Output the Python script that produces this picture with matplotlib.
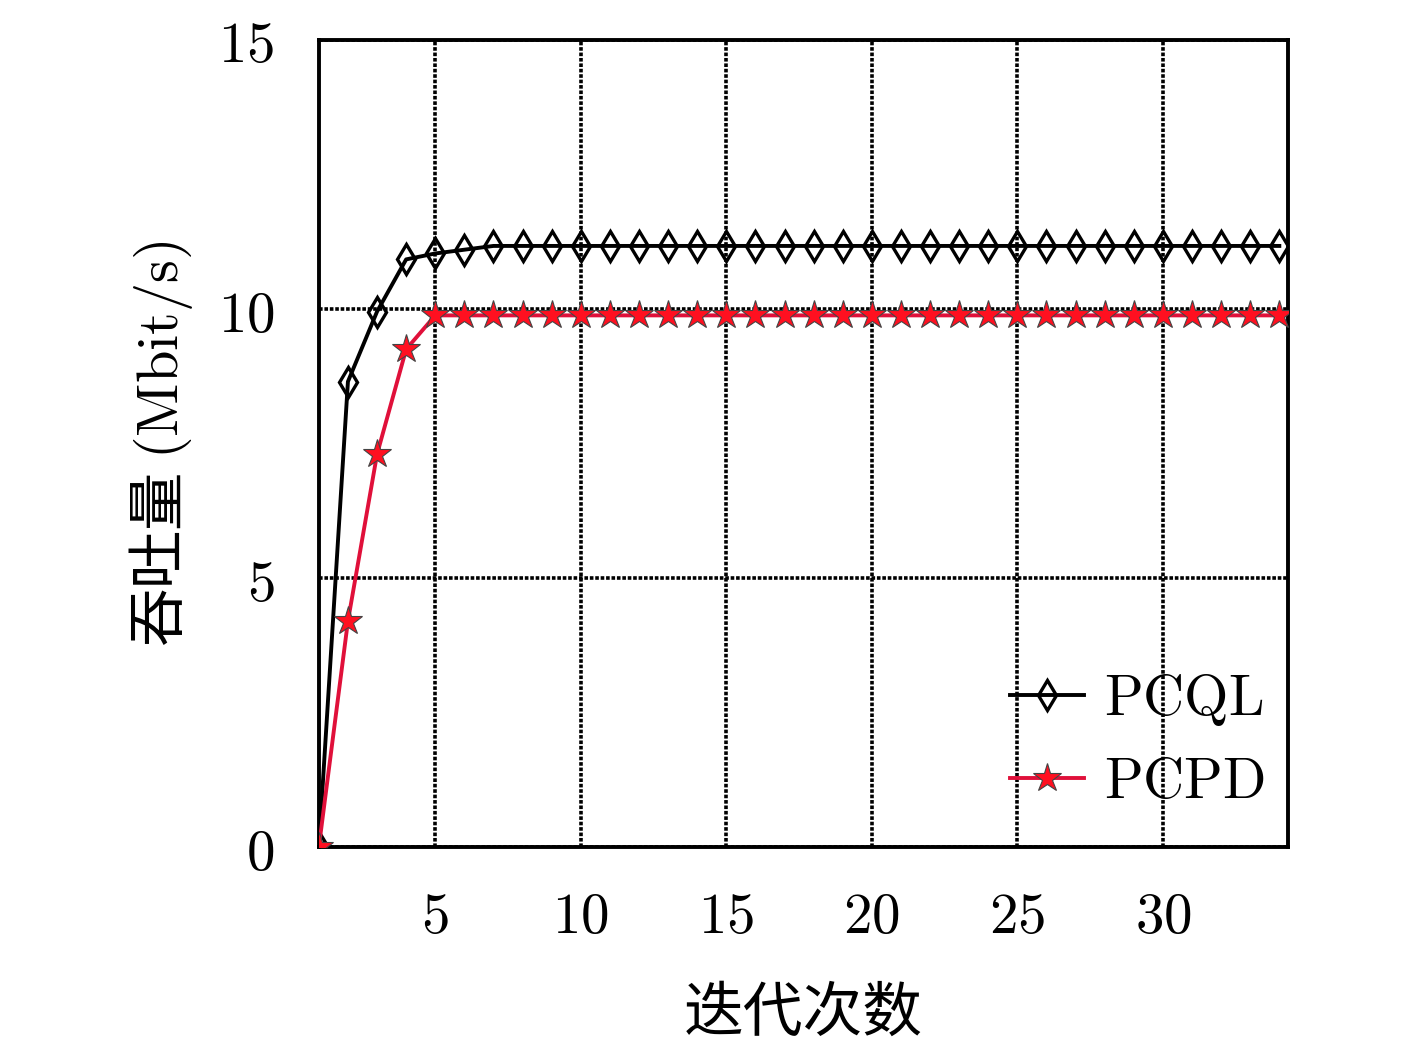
import matplotlib
matplotlib.use("Agg")
import matplotlib.pyplot as plt

plt.rcParams["mathtext.fontset"] = "cm"
plt.rcParams["font.family"] = ["Noto Sans CJK SC", "DejaVu Sans"]

iters = list(range(1, 35))
pcql = [0.0, 8.65, 9.95, 10.92, 11.03, 11.10] + [11.17] * 28
pcpd = [0.0, 4.20, 7.30, 9.25, 9.88] + [9.88] * 29
xticks = [5, 10, 15, 20, 25, 30]
yticks = [0, 5, 10, 15]

fig = plt.figure(figsize=(14.17, 10.46), dpi=100)
ax = fig.add_axes([0.225, 0.19, 0.684, 0.772])

ax.plot(iters, pcql, color="black", lw=2.8, marker="d", ms=15,
        mfc="none", mec="black", mew=2.4, label=r"$\mathrm{PCQL}$", zorder=4)
ax.plot(iters, pcpd, color="#e0103a", lw=2.8, marker="*", ms=21,
        mfc="#ff1020", mec="#444444", mew=0.8, label=r"$\mathrm{PCPD}$", zorder=5)

ax.set_xlim(1, 34.3)
ax.set_ylim(0, 15)
ax.set_xticks(xticks)
ax.set_yticks(yticks)
ax.set_xticklabels([f"${t}$" for t in xticks])
ax.set_yticklabels([f"${t}$" for t in yticks])
ax.tick_params(axis="both", length=0, labelsize=41)
ax.tick_params(axis="x", pad=29)
ax.tick_params(axis="y", pad=32)

ax.grid(True, color="black", lw=2.6, ls=(0, (1, 0.5)))
ax.set_axisbelow(True)
for s in ax.spines.values():
    s.set_linewidth(2.8)

ax.set_xlabel("迭代次数", fontsize=43, labelpad=27)
ax.set_ylabel(r"吞吐量 $(\mathrm{Mbit/s})$", fontsize=42, labelpad=16)

leg = ax.legend(loc="lower right", fontsize=41, frameon=False,
                handlelength=1.3, handletextpad=0.35, labelspacing=0.42,
                bbox_to_anchor=(1.029, -0.018))

fig.savefig("out.png", dpi=100, facecolor="white")
